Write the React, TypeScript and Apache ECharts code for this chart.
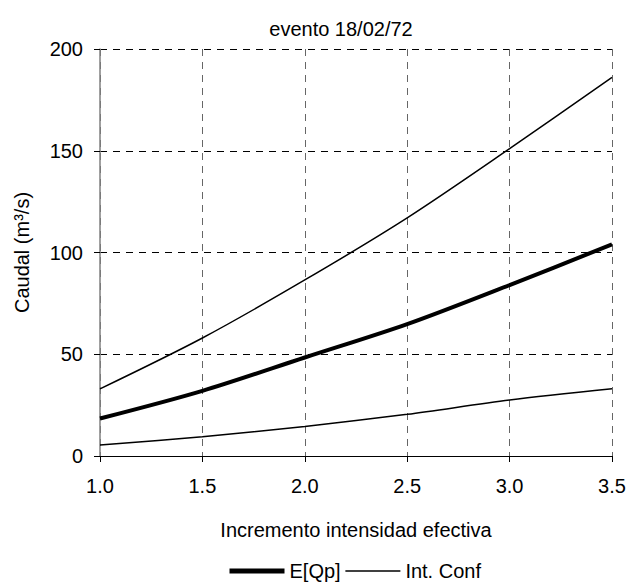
import React, { useEffect, useRef } from "react";
import * as echarts from "echarts";

const xValues = [1.0, 1.5, 2.0, 2.5, 3.0, 3.5];
const expected = [18.4, 32, 48.4, 64.8, 84, 104];
const upper = [33, 58, 86.5, 117, 151, 186];
const lower = [5.4, 9.5, 14.5, 20.5, 27.5, 33];
const titleText = "evento 18/02/72";
const xName = "Incremento intensidad efectiva";
const yName = "Caudal (m³/s)";
const legendNames = ["E[Qp]", "Int. Conf"];

const FONT = "Liberation Sans, Arial, sans-serif";
const FS = 20;

export default function App() {
  const ref = useRef<HTMLDivElement>(null);
  useEffect(() => {
    if (!ref.current) return;
    const chart = echarts.init(ref.current, undefined, { renderer: "svg" });
    const pair = (arr: number[]) => xValues.map((x, i) => [x, arr[i]]);
    chart.setOption({
      animation: false,
      backgroundColor: "#fff",
      textStyle: { fontFamily: FONT },
      title: {
        text: titleText,
        left: 336,
        top: 14,
        textAlign: "center",
        textStyle: { fontSize: FS, fontWeight: "normal", color: "#000", fontFamily: FONT },
      },
      legend: {
        top: 556,
        left: 222,
        itemWidth: 55,
        itemHeight: 10,
        itemGap: 4,
        textStyle: { fontSize: FS, color: "#000", fontFamily: FONT },
        data: [
          { name: legendNames[0], itemStyle: { opacity: 0 }, lineStyle: { width: 5, color: "#000" } },
          { name: legendNames[1], itemStyle: { opacity: 0 }, lineStyle: { width: 1.5, color: "#000" } },
        ],
      },
      grid: { left: 100, right: 18, top: 49, bottom: 127 },
      xAxis: {
        type: "value",
        min: 1,
        max: 3.5,
        interval: 0.5,
        name: xName,
        nameLocation: "middle",
        nameGap: 64,
        nameTextStyle: { fontSize: FS, color: "#000", fontFamily: FONT },
        axisLine: { onZero: false, lineStyle: { color: "#000", width: 1 } },
        axisTick: { show: true, length: 6, inside: false, lineStyle: { color: "#000" } },
        axisLabel: {
          fontSize: FS,
          color: "#000",
          margin: 20,
          formatter: (v: number) => v.toFixed(1),
        },
        splitLine: { show: true, lineStyle: { color: "#666", type: [7, 6], width: 1 } },
      },
      yAxis: {
        type: "value",
        min: 0,
        max: 200,
        interval: 50,
        name: yName,
        nameLocation: "middle",
        nameGap: 68,
        nameTextStyle: { fontSize: FS, color: "#000", fontFamily: FONT },
        axisLine: { show: true, lineStyle: { color: "#808080", width: 1.5 } },
        axisTick: { show: true, length: 6, lineStyle: { color: "#000" } },
        axisLabel: { fontSize: FS, color: "#000", margin: 17 },
        splitLine: { show: true, lineStyle: { color: "#000", type: [7, 6], width: 1 } },
      },
      series: [
        {
          name: legendNames[0],
          type: "line",
          data: pair(expected),
          smooth: 0.3,
          symbol: "none",
          lineStyle: { color: "#000", width: 4 },
          itemStyle: { color: "#000" },
        },
        {
          name: legendNames[1],
          type: "line",
          data: pair(upper),
          smooth: 0.3,
          symbol: "none",
          lineStyle: { color: "#000", width: 1.5 },
          itemStyle: { color: "#000" },
        },
        {
          name: legendNames[1],
          type: "line",
          data: pair(lower),
          smooth: 0.3,
          symbol: "none",
          lineStyle: { color: "#000", width: 1.5 },
          itemStyle: { color: "#000" },
        },
      ],
    });
    return () => chart.dispose();
  }, []);
  return (
    <div
      ref={ref}
      style={{ position: "fixed", left: 0, top: 0, width: 630, height: 583 }}
    />
  );
}
